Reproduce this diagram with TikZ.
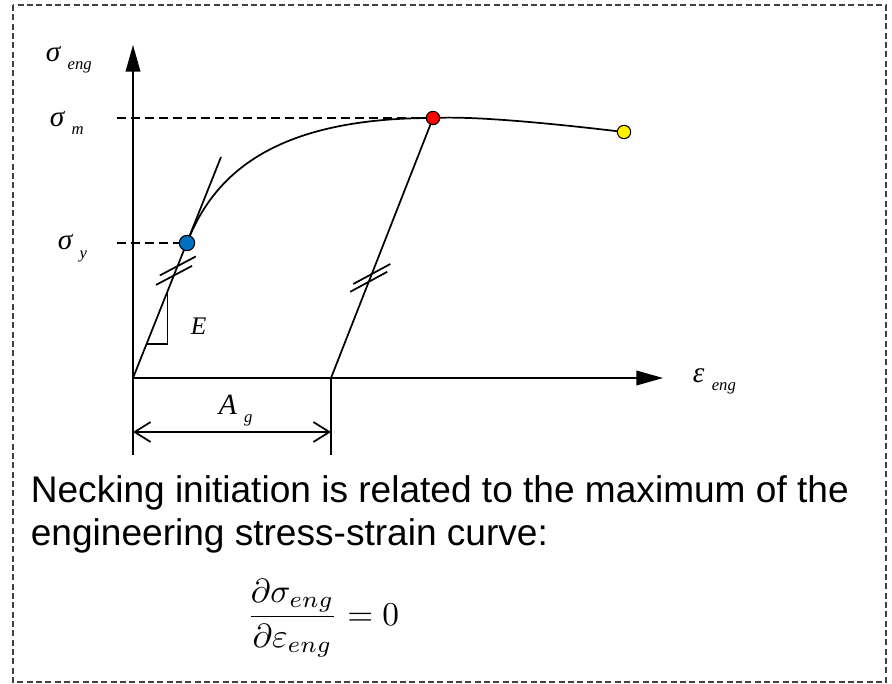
\documentclass[tikz,border=0pt]{standalone}
\usepackage{graphicx}
\usepackage{fontspec}
\setmainfont{Liberation Sans}
\newfontfamily\symfont{Liberation Serif}
\usetikzlibrary{arrows.meta,positioning,calc}
\definecolor{yieldblue}{RGB}{0,112,192}
\newcommand{\symlbl}[2]{{\fontsize{22}{22}\selectfont\symfont\itshape #1}\hspace{5.5pt}\raisebox{-6pt}{\fontsize{12.5}{12.5}\selectfont\symfont\itshape #2}}

\begin{document}
\begin{tikzpicture}[x=0.75pt, y=-0.75pt, line width=1.3pt, axis/.style={-{Triangle[length=20pt,width=11pt]}}, guide/.style={dash pattern=on 6.5pt off 4pt}, frame/.style={line width=1pt, black!75, dash pattern=on 4.5pt off 2.5pt}, dimline/.style={{Straight Barb[length=12pt,width=15pt]}-{Straight Barb[length=12pt,width=15pt]}}, dot/.style={circle, draw, line width=0.8pt, inner sep=0pt, minimum size=10pt}, lbl/.style={inner sep=0pt, anchor=base west}, txt/.style={inner sep=0pt, font=\fontsize{27.8}{32.25}\selectfont}]
\useasboundingbox (0,0) rectangle (892,684);
\draw[frame] (13,5) rectangle (886,682);
\coordinate (O) at (133,378);
\coordinate (ytop) at (133,45);
\coordinate (xtop) at (663,378);
\coordinate (yld) at (187,243);
\coordinate (mx) at (433,118);
\coordinate (frc) at (624,132);
\coordinate (tan) at (221,157);
\coordinate (Ag) at (331,378);
\draw[axis] (O) -- (ytop);
\draw[axis] (O) -- (xtop);
\node[lbl] (seng) at (45,62) {\symlbl{σ}{eng}};
\node[lbl] (sm) at (49,127) {\symlbl{σ}{m}};
\node[lbl] (sy) at (57,250) {\symlbl{σ}{y}};
\node[lbl] (eeng) at (692,382) {\symlbl{ε}{eng}};
\node[lbl] (Alab) at (218,414) {\symlbl{A}{g}};
\node[lbl] (Elab) at (190,334) {{\fontsize{19}{19}\selectfont\symfont\itshape E}};
\draw[guide] ($(O |- mx)+(-16,0)$) -- (mx);
\draw[guide] ($(O |- yld)+(-16,0)$) -- (yld);
\draw (O) -- (tan);
\draw (yld) .. controls (215,170) and (280,118) .. (mx) .. controls (470,116) and (540,122) .. (frc);
\draw (mx) -- (Ag);
\draw ($(O)!0.83!(yld)+(-18,9.5)$) -- ++(36,-19);
\draw ($(O)!0.76!(yld)+(-18,9.5)$) -- ++(36,-19);
\draw ($(Ag)!0.40!(mx)+(-18.5,10)$) -- ++(37,-20);
\draw ($(Ag)!0.37!(mx)+(-18.5,10)$) -- ++(37,-20);
\draw ($(O)!0.25!(yld)$) -| ($(O)!0.64!(yld)$);
\draw (O) -- ++(0,77);
\draw (Ag) -- ++(0,77);
\draw[dimline] ($(O)+(0,54)$) -- ($(Ag)+(0,54)$);
\node[dot, fill=yieldblue, minimum size=11.5pt] (Y) at (yld) {};
\node[dot, fill=red] (M) at (mx) {};
\node[dot, fill=yellow] (F) at (frc) {};
\node[txt, anchor=base west, align=left] (note) at (30,545) {Necking initiation is related to the maximum of the\\engineering stress-strain curve:};
\node[inner sep=0pt, anchor=base west] (eq) at (246,625) {\scalebox{2.5}{$\displaystyle\frac{\partial\sigma_{eng}}{\partial\varepsilon_{eng}}=0$}};
\end{tikzpicture}
\end{document}
